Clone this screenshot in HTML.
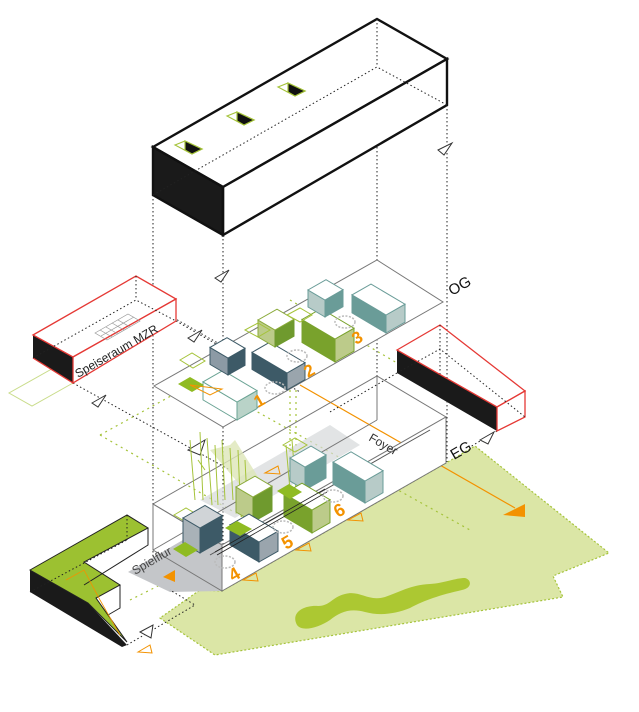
<!DOCTYPE html>
<html><head><meta charset="utf-8"><style>
html,body{margin:0;padding:0;background:#fff;width:639px;height:712px;overflow:hidden}
svg{display:block}
text{font-family:"Liberation Sans",sans-serif}
</style></head><body>
<svg width="639" height="712" viewBox="0 0 639 712" xmlns="http://www.w3.org/2000/svg">
<!-- ground -->
<polygon points="222,591 446,463 475,446 609,553 553,576 563,597 215,655 160,618 200,590" fill="#dbe6a6" stroke="#a5c33a" stroke-width="1.2" stroke-dasharray="2,2"/>
<path d="M297,625 C290,612 305,605 318,606 C330,606 332,597 345,594 C360,590 368,602 385,597 C400,592 410,585 430,584 C445,583 455,578 465,578 C472,580 472,588 462,590 C440,595 425,600 410,608 C395,614 380,616 365,612 C350,608 340,612 330,620 C318,628 302,632 297,625 Z" fill="#acc832"/>
<!-- orange arrow -->
<line x1="300" y1="385" x2="515" y2="508" stroke="#f39200" stroke-width="1.2"/>
<polygon points="503,515 525,504 525,517" fill="#f39200"/>

<!-- vertical dotted projection lines -->
<g stroke="#222" stroke-width="1" stroke-dasharray="1.5,2.5" fill="none">
<line x1="153" y1="195" x2="153" y2="560"/>
<line x1="223" y1="235" x2="223" y2="590"/>
<line x1="377" y1="19" x2="377" y2="420"/>
<line x1="447" y1="105" x2="447" y2="462"/>
<line x1="176" y1="321" x2="300" y2="392"/>
<line x1="73" y1="383" x2="230" y2="470"/>
<line x1="440" y1="325" x2="440" y2="385"/>
<line x1="397" y1="373" x2="330" y2="412"/>
<line x1="497" y1="431" x2="470" y2="447"/>
<line x1="125" y1="290" x2="230" y2="350"/>
</g>
<!-- light green dotted lines -->
<g stroke="#a5c33a" stroke-width="1.2" stroke-dasharray="2,4" fill="none">
<line x1="100" y1="435" x2="300" y2="550"/>
<line x1="100" y1="435" x2="200" y2="380"/>
<line x1="200" y1="380" x2="470" y2="530"/>
<line x1="290" y1="300" x2="460" y2="400"/>
<line x1="290" y1="330" x2="290" y2="470"/>
<line x1="296" y1="330" x2="296" y2="470"/>
<line x1="130" y1="600" x2="180" y2="575"/>
</g>
<polyline points="73,357 9,393 32,406 73,383" fill="none" stroke="#c9dc8a" stroke-width="1"/>

<!-- top block -->
<polygon points="153,147 223,187 223,235 153,195" fill="#1a1a1a"/>
<polygon points="153,147 377,19 447,59 223,187" fill="#fff" stroke="#111" stroke-width="2.4"/>
<polygon points="223,187 447,59 447,105 223,235" fill="#fff" stroke="#111" stroke-width="2.4"/>
<polygon points="153,147 223,187 223,235 153,195" fill="none" stroke="#111" stroke-width="2.4"/>
<g stroke="#222" stroke-dasharray="1.5,2.5" fill="none"><polyline points="153,195 377,67 447,105"/><line x1="377" y1="19" x2="377" y2="67"/></g>
<g stroke="#a5c33a" stroke-width="1.2">
<polygon points="175,145 185,141 202,149 192,154" fill="#fff"/><polygon points="185,141 202,149 192,154 185,150" fill="#111"/>
<polygon points="227,116 237,112 254,120 244,125" fill="#fff"/><polygon points="237,112 254,120 244,125 237,121" fill="#111"/>
<polygon points="278,87 288,83 305,91 295,96" fill="#fff"/><polygon points="288,83 305,91 295,96 288,92" fill="#111"/>
</g>
<polygon points="438,150 452,143 444,155" fill="#fff" stroke="#333"/>
<polygon points="215,278 229,270 221,282" fill="#fff" stroke="#333"/>

<!-- OG plate -->
<polygon points="154,386 223,427 443,302 377,260" fill="#fff" stroke="#777" stroke-width="1"/>
<text x="0" y="0" font-size="15" fill="#111" transform="translate(452,296) rotate(-30)">OG</text>
<!-- OG cubes -->
<g stroke-width="1">
<polygon points="237,420 203,399.9 203,381.9 237,402" fill="#fff" stroke="#6aa394"/>
<polygon points="237,420 257,408.6 257,390.6 237,402" fill="#b9d3c8" stroke="#6aa394"/>
<polygon points="237,402 257,390.6 223,370.5 203,381.9" fill="#fff" stroke="#6aa394"/>

<polygon points="287,390 252,369.4 252,352.4 287,373" fill="#3d5a67" stroke="#3d5a67"/>
<polygon points="287,390 305,379.7 305,362.7 287,373" fill="#9aa5ad" stroke="#3d5a67"/>
<polygon points="287,373 305,362.7 270,342.1 252,352.4" fill="#fff" stroke="#3d5a67"/>

<polygon points="228,375 210,364.4 210,347.4 228,358" fill="#8c9aa5" stroke="#3d5a67"/>
<polygon points="228,375 245,365.3 245,348.3 228,358" fill="#3d5a67" stroke="#3d5a67"/>
<polygon points="228,358 245,348.3 227,337.7 210,347.4" fill="#fff" stroke="#3d5a67"/>

<polygon points="275,347 258,337 258,320 275,330" fill="#bccb8a" stroke="#8aaa3a"/>
<polygon points="275,347 294,336.2 294,319.2 275,330" fill="#6f9a2e" stroke="#6f9a2e"/>
<polygon points="275,330 294,319.2 277,309.2 258,320" fill="#fff" stroke="#8aaa3a"/>

<polygon points="335,362 302,342.5 302,319.5 335,339" fill="#79a22c" stroke="#79a22c"/>
<polygon points="335,362 354,351.2 354,328.2 335,339" fill="#bccb8a" stroke="#79a22c"/>
<polygon points="335,339 354,328.2 321,308.7 302,319.5" fill="#fff" stroke="#79a22c"/>

<polygon points="325,317 308,307 308,290 325,300" fill="#b7cbc8" stroke="#6a9c98"/>
<polygon points="325,317 343,306.7 343,289.7 325,300" fill="#6a9c98" stroke="#6a9c98"/>
<polygon points="325,300 343,289.7 326,279.7 308,290" fill="#fff" stroke="#6a9c98"/>

<polygon points="386,333 352,312.9 352,294.9 386,315" fill="#6a9c98" stroke="#6a9c98"/>
<polygon points="386,333 405,322.2 405,304.2 386,315" fill="#b7cbc8" stroke="#6a9c98"/>
<polygon points="386,315 405,304.2 371,284.1 352,294.9" fill="#fff" stroke="#6a9c98"/>
</g>
<polygon points="178,384 190,377 204,385 192,392" fill="#8fbb22"/>
<polygon points="180,360 192,353 205,361 193,368" fill="none" stroke="#a5c33a"/>
<polygon points="245,330 258,323 270,330 258,337" fill="none" stroke="#a5c33a"/>
<polygon points="287,315 300,308 312,315 300,322" fill="none" stroke="#a5c33a"/>
<g fill="#f39200" font-weight="bold" font-size="17">
<text transform="translate(258,408) rotate(-30)">1</text>
<text transform="translate(308,378) rotate(-30)">2</text>
<text transform="translate(356,345) rotate(-30)">3</text>
</g>
<polygon points="190,385 210,395 222,389" fill="none" stroke="#f39200" stroke-width="1"/>

<!-- Speiseraum box -->
<polygon points="33,335 73,357 73,383 33,358" fill="#1a1a1a"/>
<polygon points="33,335 136,276 176,299 73,357" fill="#fff" stroke="#e53935" stroke-width="1.3"/>
<polygon points="73,357 176,299 176,321 73,383" fill="#fff" stroke="#e53935" stroke-width="1.3"/>
<line x1="33" y1="358" x2="73" y2="383" stroke="#e53935" stroke-width="1.3"/>
<g stroke="#222" stroke-dasharray="1.5,2.5" fill="none"><polyline points="33,358 136,300 176,321"/><line x1="136" y1="276" x2="136" y2="300"/></g>
<g fill="none" stroke="#999" stroke-width="0.7">
<polygon points="95,333 128,314 140,321 107,340"/>
<line x1="100" y1="330" x2="112" y2="337"/><line x1="106" y1="327" x2="118" y2="334"/><line x1="112" y1="323" x2="124" y2="330"/><line x1="118" y1="320" x2="130" y2="327"/>
<line x1="101" y1="336" x2="134" y2="317"/>
</g>
<text font-size="12" fill="#222" transform="translate(78,378) rotate(-30)">Speiseraum MZR</text>
<polygon points="188,338 202,330 194,342" fill="#fff" stroke="#333"/>
<polygon points="92,403 106,395 98,407" fill="#fff" stroke="#333"/>

<!-- Right red box -->
<polygon points="397,350 497,407 497,431 397,373" fill="#1a1a1a"/>
<polygon points="397,350 440,325 525,391 497,407" fill="none" stroke="#e53935" stroke-width="1.3"/>
<polygon points="497,407 525,391 525,417 497,431" fill="#fff" stroke="#e53935" stroke-width="1.3"/>
<g stroke="#222" stroke-dasharray="1.5,2.5" fill="none"><polyline points="397,373 440,349 525,417"/><line x1="440" y1="325" x2="440" y2="349"/></g>
<polygon points="480,440 494,432 488,444" fill="#fff" stroke="#333"/>
<polygon points="188,450 205,440 200,455" fill="#fff" stroke="#333"/>

<!-- EG box -->
<polygon points="153,504 222,545 446,417 377,376" fill="none" stroke="#777"/>
<polygon points="128,572 200,530 225,545 222,591 170,592" fill="#c4c6c9"/>
<polygon points="222,591 446,463 446,417 222,545" fill="#fff" stroke="#777"/>
<polygon points="153,504 222,545 222,591 153,550" fill="none" stroke="#777"/>
<polygon points="200,500 330,425 360,445 235,518" fill="#d6d8da" opacity="0.7"/>
<line x1="153" y1="550" x2="377" y2="420" stroke="#777"/>
<line x1="377" y1="376" x2="377" y2="420" stroke="#777"/>
<line x1="210" y1="555" x2="430" y2="430" stroke="#555"/>
<polygon points="210,450 230,445 235,440 260,480 240,485" fill="#dde6b8" opacity="0.8"/>
<g stroke="#a5c33a" stroke-width="1" fill="none">
<path d="M190,440 L195,500 M200,432 L203,500 M207,438 L212,505 M215,445 L218,505 M222,440 L225,500 M230,448 L233,500 M238,450 L240,495 M245,460 L247,500 M286,445 L290,490 M292,440 L296,490 M198,460 L205,470"/>
</g>
<polygon points="283,445 295,438 307,445 295,452" fill="none" stroke="#a5c33a"/>
<polygon points="174,515 186,508 198,515 186,522" fill="none" stroke="#a5c33a"/>
<!-- EG cubes -->
<g stroke-width="1">
<polygon points="305,490 290,481.1 290,458.1 305,467" fill="#b7cbc8" stroke="#6a9c98"/>
<polygon points="305,490 326,478 326,455 305,467" fill="#6a9c98" stroke="#6a9c98"/>
<polygon points="305,467 326,455 311,446.1 290,458.1" fill="#fff" stroke="#6a9c98"/>

<polygon points="365,503 333,484.1 333,462.1 365,481" fill="#6a9c98" stroke="#6a9c98"/>
<polygon points="365,503 383,492.7 383,470.7 365,481" fill="#b7cbc8" stroke="#6a9c98"/>
<polygon points="365,481 383,470.7 351,451.8 333,462.1" fill="#fff" stroke="#6a9c98"/>

<polygon points="253,522 236,512 236,487 253,497" fill="#bccb8a" stroke="#8aaa3a"/>
<polygon points="253,522 272,511.2 272,486.2 253,497" fill="#6f9a2e" stroke="#6f9a2e"/>
<polygon points="253,497 272,486.2 255,476.2 236,487" fill="#fff" stroke="#8aaa3a"/>

<polygon points="312,533 284,516.5 284,493.5 312,510" fill="#79a22c" stroke="#79a22c"/>
<polygon points="312,533 330,522.7 330,499.7 312,510" fill="#bccb8a" stroke="#79a22c"/>
<polygon points="312,510 330,499.7 302,483.2 284,493.5" fill="#fff" stroke="#79a22c"/>

<polygon points="200,553 183,543 183,518 200,528" fill="#a9b2b8" stroke="#3d5a67"/>
<polygon points="200,553 222,540.5 222,515.5 200,528" fill="#3d5a67" stroke="#3d5a67"/>
<polygon points="200,528 222,515.5 205,505.5 183,518" fill="#d0d4d7" stroke="#3d5a67"/>

<polygon points="259,562 230,544.9 230,524.9 259,542" fill="#3d5a67" stroke="#3d5a67"/>
<polygon points="259,562 278,551.2 278,531.2 259,542" fill="#9aa5ad" stroke="#3d5a67"/>
<polygon points="259,542 278,531.2 249,514.1 230,524.9" fill="#fff" stroke="#3d5a67"/>
</g>
<polygon points="173,549 185,542 198,550 186,557" fill="#8fbb22"/>
<polygon points="225,528 237,521 252,529 240,536" fill="#8fbb22"/>
<polygon points="277,491 289,484 302,492 290,499" fill="#8fbb22"/>
<line x1="215" y1="552" x2="325" y2="489" stroke="#222" stroke-width="0.8"/>
<line x1="217" y1="555" x2="327" y2="492" stroke="#222" stroke-width="0.8"/>
<g fill="#f39200" font-weight="bold" font-size="18">
<text transform="translate(233,582) rotate(-30)">4</text>
<text transform="translate(286,550) rotate(-30)">5</text>
<text transform="translate(338,518) rotate(-30)">6</text>
</g>
<g fill="none" stroke="#bbb" stroke-width="1.5" stroke-dasharray="2,1.5">
<ellipse cx="225" cy="562" rx="10" ry="6"/><ellipse cx="283" cy="527" rx="10" ry="6"/><ellipse cx="333" cy="496" rx="10" ry="6"/>
<ellipse cx="275" cy="388" rx="10" ry="6"/><ellipse cx="297" cy="356" rx="10" ry="6"/><ellipse cx="345" cy="322" rx="10" ry="6"/>
</g>
<g fill="none" stroke="#f39200" stroke-width="1">
<polygon points="243,580 256,573 258,581"/><polygon points="296,550 309,543 311,551"/><polygon points="348,520 361,513 363,521"/><polygon points="265,473 278,466 280,474"/><polygon points="138,652 150,645 152,653"/>
</g>
<polygon points="163,577 175,570 175,582" fill="#f39200"/>
<text font-size="12" fill="#444" transform="translate(135,575) rotate(-30)">Spielflur</text>
<text font-size="12" fill="#333" transform="translate(368,440) rotate(30)">Foyer</text>
<text font-size="15" fill="#111" transform="translate(454,460) rotate(-30)">EG</text>

<!-- L-shape -->
<polygon points="30,570 88,603 127,645 122,647 30,592" fill="#1a1a1a"/>
<polygon points="30,570 127,515 148,528 84,562 120,585 96,598 127,642 88,603" fill="#9cc131" stroke="#222" stroke-width="1"/>
<polyline points="148,528 148,545 84,585" fill="none" stroke="#222"/>
<polyline points="120,585 120,608 108,615" fill="none" stroke="#222"/>
<polyline points="66,580 84,570 100,600 120,635" fill="none" stroke="#f39200" stroke-width="0.8"/>
<g stroke="#222" stroke-dasharray="1.5,2.5" fill="none"><line x1="127" y1="515" x2="127" y2="540"/><polyline points="30,592 127,540"/><polyline points="127,645 195,605 170,590"/></g>
<polygon points="140,632 153,625 151,638" fill="#fff" stroke="#333"/>
</svg>
</body></html>
